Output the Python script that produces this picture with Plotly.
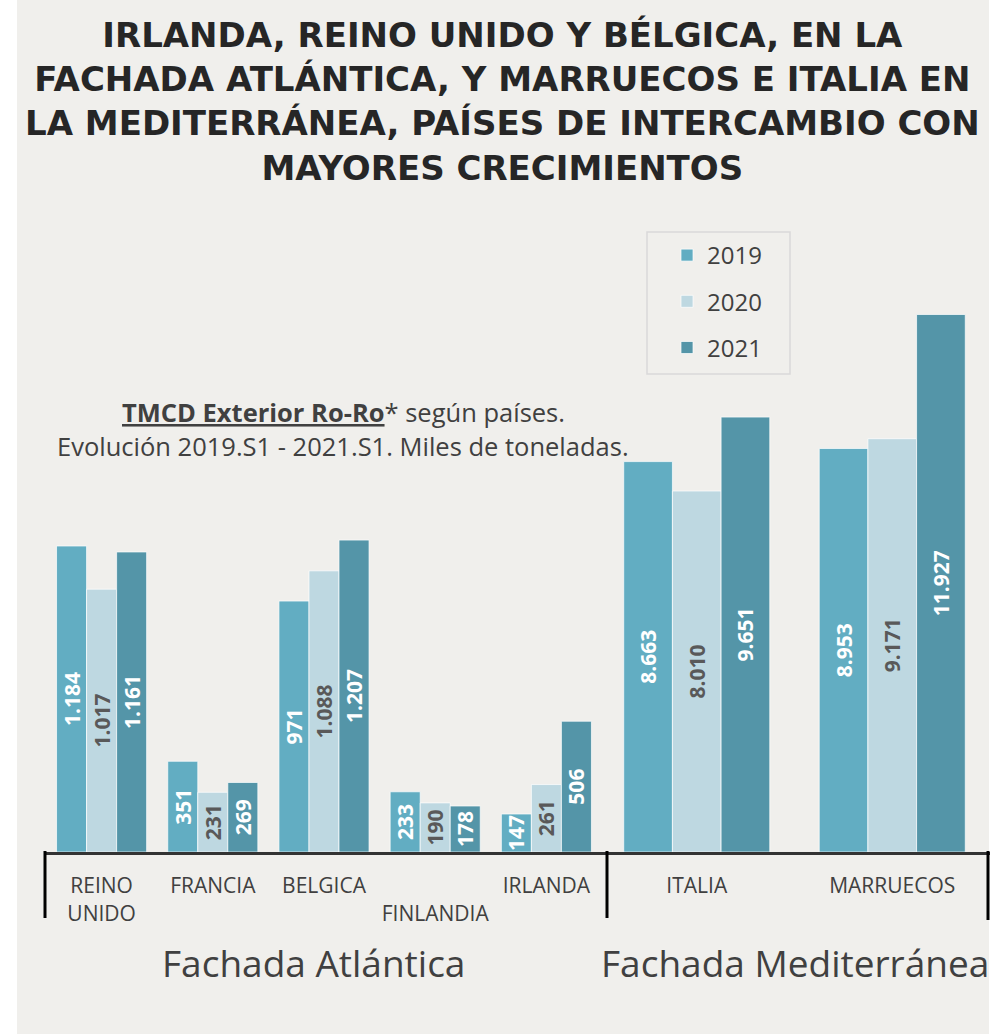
import plotly.graph_objects as go

W, H = 1001, 1034

# ---------------- data ----------------
years = ["2019", "2020", "2021"]
atl_countries = ["REINO UNIDO", "FRANCIA", "BELGICA", "FINLANDIA", "IRLANDA"]
atl_ticktext = ["REINO<br>UNIDO", "FRANCIA", "BELGICA", " <br>FINLANDIA", "IRLANDA"]
atl_2019 = [1184, 351, 971, 233, 147]
atl_2020 = [1017, 231, 1088, 190, 261]
atl_2021 = [1161, 269, 1207, 178, 506]

med_countries = ["ITALIA", "MARRUECOS"]
med_2019 = [8663, 8953]
med_2020 = [8010, 9171]
med_2021 = [9651, 11927]

title_lines = [
    "IRLANDA, REINO UNIDO Y BÉLGICA, EN LA",
    "FACHADA ATLÁNTICA, Y MARRUECOS E ITALIA EN",
    "LA MEDITERRÁNEA, PAÍSES DE INTERCAMBIO CON",
    "MAYORES CRECIMIENTOS",
]
group_labels = ["Fachada Atlántica", "Fachada Mediterránea"]

colors = {"2019": "#62adc2", "2020": "#bed8e1", "2021": "#5495a8"}
text_colors = {"2019": "white", "2020": "#595959", "2021": "white"}


def px(x):
    return x / W


def py(y):
    return (H - y) / H


fig = go.Figure()

atl_vals = {"2019": atl_2019, "2020": atl_2020, "2021": atl_2021}
med_vals = {"2019": med_2019, "2020": med_2020, "2021": med_2021}

atl_w = 0.27
med_w = 0.249
for k, yr in enumerate(years):
    fig.add_trace(go.Bar(
        x=atl_countries, y=atl_vals[yr], name=yr,
        xaxis="x", yaxis="y",
        width=atl_w, offset=-1.5 * atl_w + k * atl_w,
        marker=dict(color=colors[yr], line=dict(color="rgba(255,255,255,0.7)", width=1)),
        texttemplate="%{y:,}", textposition="inside", insidetextanchor="middle",
        textangle=-90, constraintext="none",
        textfont=dict(family="Open Sans", size=21, color=text_colors[yr], weight="bold"),
        legendgroup=yr, showlegend=True,
    ))
    fig.add_trace(go.Bar(
        x=med_countries, y=med_vals[yr], name=yr,
        xaxis="x2", yaxis="y2",
        width=med_w, offset=-1.5 * med_w + k * med_w,
        marker=dict(color=colors[yr], line=dict(color="rgba(255,255,255,0.7)", width=1)),
        texttemplate="%{y:,}", textposition="inside", insidetextanchor="middle",
        textangle=-90, constraintext="none",
        textfont=dict(family="Open Sans", size=21, color=text_colors[yr], weight="bold"),
        legendgroup=yr, showlegend=False,
    ))

axis_font = dict(family="Open Sans", size=21, color="#404040")
base_y = py(852)
top_y = py(200)

fig.update_layout(
    width=W, height=H,
    margin=dict(l=0, r=0, t=0, b=0),
    paper_bgcolor="white", plot_bgcolor="rgba(0,0,0,0)",
    separators=",.",
    barmode="overlay",
    showlegend=True,
    legend=dict(x=px(667), y=py(233), xanchor="left", yanchor="top",
                bgcolor="rgba(0,0,0,0)", borderwidth=0,
                font=dict(family="Open Sans", size=24, color="#404040"),
                tracegroupgap=12, traceorder="grouped"),
    xaxis=dict(domain=[px(46), px(602)], range=[-0.5, 4.5],
               tickmode="array", tickvals=atl_countries, ticktext=atl_ticktext,
               showline=True, linecolor="#333333", linewidth=3,
               ticks="", tickfont=axis_font, ticklabelstandoff=13,
               showgrid=False, zeroline=False, anchor="y"),
    yaxis=dict(domain=[base_y, top_y], range=[0, 2523], visible=False, anchor="x"),
    xaxis2=dict(domain=[px(599), px(990)], range=[-0.5, 1.5],
                tickmode="array", tickvals=med_countries, ticktext=med_countries,
                showline=True, linecolor="#333333", linewidth=3,
                ticks="", tickfont=axis_font, ticklabelstandoff=13,
                showgrid=False, zeroline=False, anchor="y2"),
    yaxis2=dict(domain=[base_y, top_y], range=[0, 14468], visible=False, anchor="x2"),
)

shapes = [
    dict(type="rect", xref="paper", yref="paper", x0=px(17), x1=px(989), y0=0, y1=1,
         fillcolor="#f0efec", line=dict(width=0), layer="below"),
    dict(type="rect", xref="paper", yref="paper", x0=px(647), x1=px(790), y0=py(374), y1=py(232),
         fillcolor="rgba(0,0,0,0)", line=dict(color="#d9d9d9", width=1.5), layer="above"),
    dict(type="line", xref="paper", yref="paper", x0=px(45), x1=px(45), y0=py(918), y1=py(851),
         line=dict(color="black", width=3)),
    dict(type="line", xref="paper", yref="paper", x0=px(607), x1=px(607), y0=py(918), y1=py(851),
         line=dict(color="black", width=3)),
    dict(type="line", xref="paper", yref="paper", x0=px(988), x1=px(988), y0=py(920), y1=py(851),
         line=dict(color="black", width=3)),
]
fig.update_layout(shapes=shapes)

annotations = [dict(
    text="<br>".join(title_lines), xref="paper", yref="paper", x=px(503), y=py(101),
    xanchor="center", yanchor="middle", showarrow=False, align="center",
    font=dict(family="DejaVu Sans", size=34, color="#262626", weight="bold"),
)]

annotations.append(dict(
    text="<b><u>TMCD Exterior Ro-Ro</u></b>* según países.",
    xref="paper", yref="paper", x=px(343), y=py(412), xanchor="center", yanchor="middle",
    showarrow=False, font=dict(family="Open Sans", size=25.5, color="#404040")))
annotations.append(dict(
    text="Evolución 2019.S1 - 2021.S1. Miles de toneladas.",
    xref="paper", yref="paper", x=px(343), y=py(446), xanchor="center", yanchor="middle",
    showarrow=False, font=dict(family="Open Sans", size=25.5, color="#404040")))

for lbl, cx in zip(group_labels, [313, 795]):
    annotations.append(dict(
        text=lbl, xref="paper", yref="paper", x=px(cx), y=py(962), xanchor="center",
        yanchor="middle", showarrow=False,
        font=dict(family="Open Sans", size=37, color="#404040")))

fig.update_layout(annotations=annotations)

fig.write_html("out.html", config={"displayModeBar": False},
               post_script="document.body.style.margin='0';")
